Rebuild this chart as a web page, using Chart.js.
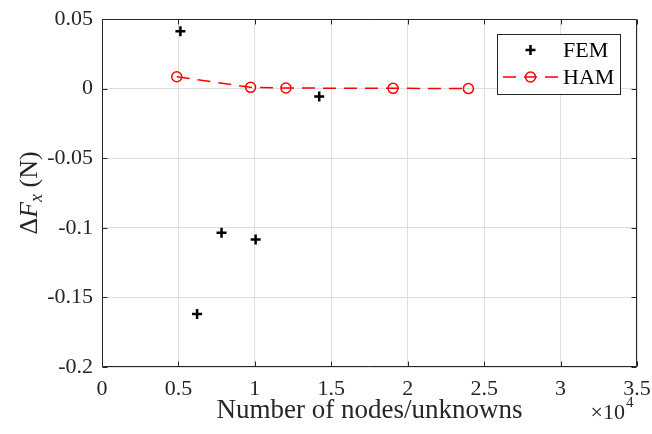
<!DOCTYPE html>
<html>
<head>
<meta charset="utf-8">
<script src="https://cdn.jsdelivr.net/npm/chart.js@4.4.1/dist/chart.umd.min.js"></script>
<style>
  html, body { margin: 0; padding: 0; background: #fff; }
  #wrap { width: 652px; height: 434px; }
</style>
</head>
<body>
<div id="wrap"><canvas id="c" width="652" height="434"></canvas></div>
<script>
// ---- data (x in units of 10^4 nodes/unknowns) ----
const femLabel = 'FEM';
const femX = [0.513, 0.622, 0.782, 1.005, 1.421];
const femY = [0.0412, -0.1619, -0.1036, -0.1084, -0.0056];

const hamLabel = 'HAM';
const hamX = [0.489, 0.972, 1.203, 1.904, 2.397];
const hamY = [0.0085, 0.0009, 0.0004, 0.0002, 0.0000];

const xTickValues = [0, 0.5, 1, 1.5, 2, 2.5, 3, 3.5];
const xTickLabels = ['0', '0.5', '1', '1.5', '2', '2.5', '3', '3.5'];
const yTickValues = [-0.2, -0.15, -0.1, -0.05, 0, 0.05];
const yTickLabels = ['-0.2', '-0.15', '-0.1', '-0.05', '0', '0.05'];

const xTitle = 'Number of nodes/unknowns';
const xExponent = '4';

// ---- styles ----
const SERIF = '"Liberation Serif", "Times New Roman", serif';
const axisColor = '#262626';
const gridColor = '#dfdfdf';

const femPts = femX.map((x, i) => ({ x, y: femY[i] }));
const hamPts = hamX.map((x, i) => ({ x, y: hamY[i] }));

const decorPlugin = {
  id: 'decor',
  afterDraw(chart) {
    const ctx = chart.ctx;
    const a = chart.chartArea;
    const xs = chart.scales.x, ys = chart.scales.y;
    ctx.save();
    // axes box
    const L = Math.round(a.left) + 0.5, R = Math.round(a.right) - 0.5;
    const T = Math.round(a.top) + 0.5, B = Math.round(a.bottom) - 0.5;
    ctx.strokeStyle = axisColor;
    ctx.lineWidth = 1;
    ctx.beginPath();
    ctx.rect(L, T, R - L, B - T);
    // inward ticks
    const tl = 5;
    xTickValues.forEach(v => {
      const p = Math.round(xs.getPixelForValue(v)) + 0.5;
      ctx.moveTo(p, B); ctx.lineTo(p, B - tl);
      ctx.moveTo(p, T); ctx.lineTo(p, T + tl);
    });
    yTickValues.forEach(v => {
      const p = Math.round(ys.getPixelForValue(v)) + 0.5;
      ctx.moveTo(L, p); ctx.lineTo(L + tl, p);
      ctx.moveTo(R, p); ctx.lineTo(R - tl, p);
    });
    ctx.stroke();

    // x title
    ctx.fillStyle = axisColor;
    ctx.font = '27px ' + SERIF;
    ctx.textAlign = 'center';
    ctx.textBaseline = 'alphabetic';
    ctx.fillText(xTitle, (a.left + a.right) / 2, 418);

    // x10^4 exponent
    ctx.textAlign = 'left';
    ctx.font = '22px ' + SERIF;
    const base = '\u00D710';
    const bw = ctx.measureText(base).width;
    const bx = 625 - bw;
    ctx.fillText(base, bx, 419);
    ctx.font = '15px ' + SERIF;
    ctx.fillText(xExponent, 626, 407);

    // y title, rotated: ΔF_x (N)
    const parts = [
      { t: '\u0394', f: '26px ' + SERIF, dy: 0 },
      { t: 'F', f: 'italic 26px ' + SERIF, dy: 0 },
      { t: 'x', f: 'italic 18px ' + SERIF, dy: 5 },
      { t: ' (N)', f: '26px ' + SERIF, dy: 0 }
    ];
    let total = 0;
    parts.forEach(p => { ctx.font = p.f; p.w = ctx.measureText(p.t).width; total += p.w; });
    ctx.translate(37, (a.top + a.bottom) / 2);
    ctx.rotate(-Math.PI / 2);
    let cx = -total / 2;
    parts.forEach(p => {
      ctx.font = p.f;
      ctx.fillText(p.t, cx, p.dy);
      cx += p.w;
    });
    ctx.setTransform(1, 0, 0, 1, 0, 0);

    // legend
    const lx = 497.5, ly = 34.5, lw = 123, lh = 60;
    ctx.fillStyle = '#ffffff';
    ctx.fillRect(lx, ly, lw, lh);
    ctx.strokeStyle = axisColor;
    ctx.lineWidth = 1;
    ctx.strokeRect(lx, ly, lw, lh);
    const ds = chart.data.datasets;
    const r1 = 50, r2 = 77;
    ctx.strokeStyle = ds[0].borderColor;
    ctx.lineWidth = ds[0].pointBorderWidth;
    ctx.beginPath();
    ctx.moveTo(530.5 - 5, r1); ctx.lineTo(530.5 + 5, r1);
    ctx.moveTo(530.5, r1 - 5); ctx.lineTo(530.5, r1 + 5);
    ctx.stroke();
    ctx.strokeStyle = ds[1].borderColor;
    ctx.lineWidth = ds[1].borderWidth;
    ctx.setLineDash(ds[1].borderDash);
    ctx.beginPath();
    ctx.moveTo(503, r2); ctx.lineTo(559, r2);
    ctx.stroke();
    ctx.setLineDash([]);
    ctx.lineWidth = ds[1].pointBorderWidth;
    ctx.beginPath();
    ctx.arc(530.5, r2, ds[1].pointRadius, 0, Math.PI * 2);
    ctx.stroke();
    ctx.fillStyle = '#000';
    ctx.font = '22px ' + SERIF;
    ctx.textAlign = 'left';
    ctx.textBaseline = 'middle';
    ctx.fillText(ds[0].label, 563, r1 + 1);
    ctx.fillText(ds[1].label, 563, r2 + 1);
    ctx.restore();
  }
};

new Chart(document.getElementById('c'), {
  type: 'scatter',
  data: {
    datasets: [
      {
        label: femLabel,
        data: femPts,
        showLine: false,
        pointStyle: 'cross',
        pointRadius: 5,
        pointHoverRadius: 5,
        pointBorderWidth: 2.5,
        borderColor: '#000000',
        backgroundColor: '#000000'
      },
      {
        label: hamLabel,
        data: hamPts,
        showLine: true,
        borderColor: '#ff0000',
        backgroundColor: 'rgba(0,0,0,0)',
        borderWidth: 1.5,
        borderDash: [13, 8],
        pointStyle: 'circle',
        pointRadius: 5,
        pointHoverRadius: 5,
        pointBorderWidth: 1.5,
        pointBackgroundColor: 'rgba(0,0,0,0)',
        tension: 0
      }
    ]
  },
  options: {
    responsive: false,
    animation: false,
    events: [],
    layout: { padding: { left: 0, right: 15, top: 19, bottom: 0 } },
    plugins: { legend: { display: false }, tooltip: { enabled: false } },
    scales: {
      x: {
        type: 'linear',
        min: 0, max: 3.5,
        afterBuildTicks(s) { s.ticks = xTickValues.map(v => ({ value: v })); },
        afterFit(s) { s.height = 67; s.paddingLeft = 0; s.paddingRight = 0; },
        grid: { color: gridColor, drawTicks: false, lineWidth: 1 },
        border: { display: false },
        ticks: {
          padding: 9,
          color: axisColor,
          font: { family: SERIF, size: 22 },
          maxRotation: 0,
          autoSkip: false,
          callback: (v, i) => xTickLabels[i]
        }
      },
      y: {
        type: 'linear',
        min: -0.2, max: 0.05,
        afterBuildTicks(s) { s.ticks = yTickValues.map(v => ({ value: v })); },
        afterFit(s) { s.width = 102; s.paddingTop = 0; s.paddingBottom = 0; },
        grid: { color: gridColor, drawTicks: false, lineWidth: 1 },
        border: { display: false },
        ticks: {
          padding: 9,
          color: axisColor,
          font: { family: SERIF, size: 22 },
          autoSkip: false,
          callback: (v, i) => yTickLabels[i]
        }
      }
    }
  },
  plugins: [decorPlugin]
});
</script>
</body>
</html>
